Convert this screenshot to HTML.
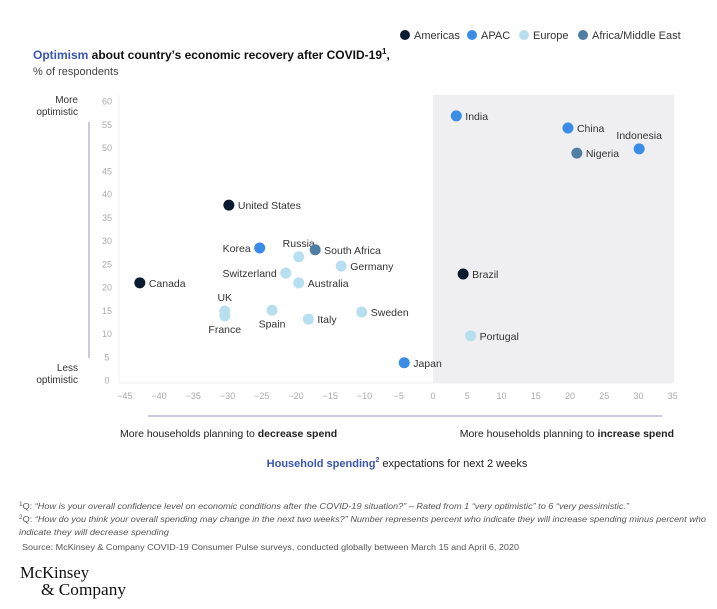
<!DOCTYPE html>
<html><head><meta charset="utf-8"><style>
body{margin:0;background:#fff;width:717px;height:604px;overflow:hidden;font-family:"Liberation Sans",Arial,sans-serif}
svg text{font-family:"Liberation Sans",Arial,sans-serif}
</style></head><body>
<svg id="chart" width="717" height="604" viewBox="0 0 717 604" xmlns="http://www.w3.org/2000/svg">
<g font-size="11" fill="#333">
<circle cx="405" cy="35" r="5" fill="#0b1b30"/><text x="414" y="39">Americas</text>
<circle cx="472" cy="35" r="5" fill="#3b8ce6"/><text x="481" y="39">APAC</text>
<circle cx="524" cy="35" r="5" fill="#b8dff0"/><text x="533" y="39">Europe</text>
<circle cx="583" cy="35" r="5" fill="#4f7ea3"/><text x="592" y="39">Africa/Middle East</text>
</g>
<text x="33" y="59" font-size="12" font-weight="bold" fill="#111"><tspan fill="#3a55b4">Optimism</tspan> about country’s economic recovery after COVID-19<tspan font-size="8" dy="-5">1</tspan><tspan dy="5">,</tspan></text>
<text x="33" y="75" font-size="11" fill="#444">% of respondents</text>
<rect x="433" y="95" width="241" height="288" fill="#efeef1"/>
<line x1="119" y1="95" x2="119" y2="383" stroke="#f0f0f0"/>
<line x1="119" y1="383" x2="674" y2="383" stroke="#f0f0f0"/>
<text x="78" y="103" font-size="10" fill="#333" text-anchor="end"><tspan x="78">More</tspan><tspan x="78" dy="12">optimistic</tspan></text>
<text x="78" y="371" font-size="10" fill="#333" text-anchor="end"><tspan x="78">Less</tspan><tspan x="78" dy="12">optimistic</tspan></text>
<line x1="89" y1="122" x2="89" y2="358" stroke="#b8b8dc" stroke-width="1.5"/>
<line x1="148" y1="416" x2="662" y2="416" stroke="#b8b8dc" stroke-width="1.5"/>
<g id="yticks"></g><g id="xticks"></g><g id="points"></g>
<text x="120" y="437" font-size="10.5" fill="#222">More households planning to <tspan font-weight="bold">decrease spend</tspan></text>
<text x="674" y="437" font-size="10.5" fill="#222" text-anchor="end">More households planning to <tspan font-weight="bold">increase spend</tspan></text>
<text x="397" y="467" font-size="11" fill="#222" text-anchor="middle"><tspan fill="#3a55b4" font-weight="bold">Household spending</tspan><tspan font-size="7" dy="-5" font-weight="bold" fill="#3a55b4">2</tspan><tspan dy="5"> expectations for next 2 weeks</tspan></text>
<g font-size="8.5" fill="#555">
<text x="19" y="509" font-style="italic" textLength="610" lengthAdjust="spacingAndGlyphs"><tspan font-size="6" dy="-3" font-style="normal">1</tspan><tspan dy="3" font-style="normal">Q: </tspan>“How is your overall confidence level on economic conditions after the COVID-19 situation?” – Rated from 1 “very optimistic” to 6 “very pessimistic.”</text>
<text x="19" y="522" font-style="italic" textLength="687" lengthAdjust="spacingAndGlyphs"><tspan font-size="6" dy="-3" font-style="normal">2</tspan><tspan dy="3" font-style="normal">Q: </tspan>“How do you think your overall spending may change in the next two weeks?” Number represents percent who indicate they will increase spending minus percent who</text>
<text x="19" y="535" font-style="italic" textLength="150" lengthAdjust="spacingAndGlyphs">indicate they will decrease spending</text>
<text x="22" y="550" textLength="497" lengthAdjust="spacingAndGlyphs">Source: McKinsey &amp; Company COVID-19 Consumer Pulse surveys, conducted globally between March 15 and April 6, 2020</text>
</g>
<g fill="#111" font-size="17">
<text x="20" y="578" style="font-family:'Liberation Serif',serif" textLength="69" lengthAdjust="spacingAndGlyphs">McKinsey</text>
<text x="41" y="595" style="font-family:'Liberation Serif',serif" textLength="85" lengthAdjust="spacingAndGlyphs">&amp; Company</text>
</g>
</svg>
<script>
const countries=["India","China","Indonesia","Nigeria","Brazil","Portugal","Japan","United States","Korea","Russia","South Africa","Germany","Switzerland","Australia","Canada","UK","France","Spain","Italy","Sweden"];
const regions=["APAC","APAC","APAC","AME","Americas","Europe","APAC","Americas","APAC","Europe","AME","Europe","Europe","Europe","Americas","Europe","Europe","Europe","Europe","Europe"];
const spending=[3.4,19.7,30.1,21,4.4,5.5,-4.2,-29.8,-25.3,-19.6,-17.2,-13.4,-21.5,-19.6,-42.8,-30.4,-30.4,-23.5,-18.2,-10.4];
const optimism=[56.8,54.2,49.7,48.8,22.8,9.5,3.7,37.6,28.4,26.5,28,24.5,23,20.9,20.9,14.8,13.8,15,13.1,14.6];
const labelPos=["r","r","above","r","r","r","r","r","l","above","r","r","l","r","r","above","below","below","r","r"];
const xTicks=[-45,-40,-35,-30,-25,-20,-15,-10,-5,0,5,10,15,20,25,30,35];
const yTicks=[0,5,10,15,20,25,30,35,40,45,50,55,60];
const colors={Americas:"#0b1b30",APAC:"#3b8ce6",Europe:"#b8dff0",AME:"#4f7ea3"};
const NS="http://www.w3.org/2000/svg";
function xs(v){return 433+v*6.85;}
function ys(v){return 380-v*4.65;}
function mk(t,a,p){const e=document.createElementNS(NS,t);for(const k in a)e.setAttribute(k,a[k]);p.appendChild(e);return e;}
const yg=document.getElementById('yticks'),xg=document.getElementById('xticks'),pg=document.getElementById('points');
yTicks.forEach(v=>{const t=mk('text',{x:107,y:ys(v)+3.5,'font-size':9,fill:'#aaa','text-anchor':'middle'},yg);t.textContent=v;

});
xTicks.forEach(v=>{const t=mk('text',{x:xs(v),y:399,'font-size':9,fill:'#aaa','text-anchor':'middle'},xg);t.textContent=v<0?'−'+(-v):v;

});
countries.forEach((c,i)=>{const cx=xs(spending[i]),cy=ys(optimism[i]);
const g=mk('g',{},pg);


mk('circle',{cx:cx,cy:cy,r:5.5,fill:colors[regions[i]]},g);
const p=labelPos[i];let a={'font-size':10.5,fill:'#333'};
if(p==='r'){a.x=cx+9;a.y=cy+4;}
else if(p==='l'){a.x=cx-9;a.y=cy+4;a['text-anchor']='end';}
else if(p==='above'){a.x=cx;a.y=cy-10;a['text-anchor']='middle';}
else {a.x=cx;a.y=cy+17;a['text-anchor']='middle';}
const t=mk('text',a,g);t.textContent=c;});
</script>
</body></html>
